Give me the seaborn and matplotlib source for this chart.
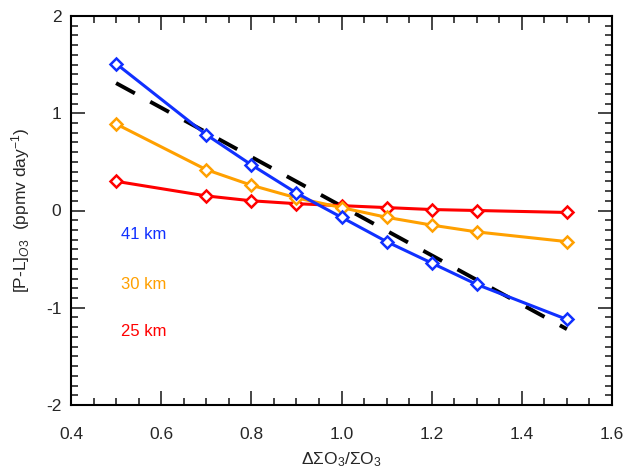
import matplotlib
matplotlib.use("Agg")
import matplotlib.pyplot as plt
import seaborn as sns
import numpy as np
import pandas as pd
from matplotlib.ticker import MultipleLocator

sns.set_style("ticks")
plt.rcParams['font.family'] = ['Liberation Sans', 'DejaVu Sans']
plt.rcParams['mathtext.fontset'] = 'custom'
plt.rcParams['mathtext.rm'] = 'Liberation Sans'
plt.rcParams['mathtext.it'] = 'Liberation Sans:italic'

x = [0.5, 0.7, 0.8, 0.9, 1.0, 1.1, 1.2, 1.3, 1.5]
y_41km = [1.51, 0.78, 0.47, 0.18, -0.07, -0.32, -0.54, -0.76, -1.12]
y_30km = [0.89, 0.42, 0.26, 0.13, 0.03, -0.07, -0.15, -0.22, -0.32]
y_25km = [0.30, 0.15, 0.10, 0.07, 0.05, 0.03, 0.01, 0.00, -0.02]
fit_x = [0.5, 1.5]
fit_y = [1.31, -1.22]

labels = ["41 km", "30 km", "25 km"]
colors = ["#1030ff", "#ffa000", "#ff0000"]
label_y = [-0.25, -0.76, -1.24]

fig = plt.figure(figsize=(6.42, 4.72), dpi=100)
ax = fig.add_axes([71/642, 1-405/472, (612-71)/642, (405-16)/472])

sns.lineplot(x=fit_x, y=fit_y, ax=ax, color="black", lw=2.8,
             dashes=False, zorder=3).lines[-1].set_dashes([5.5, 4.5])

for yv, c in zip([y_25km, y_30km, y_41km], colors[::-1]):
    sns.lineplot(x=x, y=yv, ax=ax, color=c, lw=2.2, marker="D", markersize=6,
                 markerfacecolor="white", markeredgecolor=c, markeredgewidth=1.8,
                 zorder=4)

for lab, c, ly in zip(labels, colors, label_y):
    ax.text(0.51, ly, lab, color=c, fontsize=12, va="center", ha="left")

ax.set_xlim(0.4, 1.6)
ax.set_ylim(-2, 2)
ax.xaxis.set_major_locator(MultipleLocator(0.2))
ax.xaxis.set_minor_locator(MultipleLocator(0.05))
ax.yaxis.set_major_locator(MultipleLocator(1))
ax.yaxis.set_minor_locator(MultipleLocator(0.1))
ax.xaxis.set_major_formatter(matplotlib.ticker.FuncFormatter(lambda v, p: f"{v:.1f}"))
ax.yaxis.set_major_formatter(matplotlib.ticker.FuncFormatter(lambda v, p: f"{v:.0f}"))
ax.tick_params(which="both", direction="in", top=True, right=True, labelsize=12.5, width=1.2)
ax.tick_params(which="major", length=10)
ax.tick_params(axis="x", which="major", pad=16)
ax.tick_params(axis="y", which="major", pad=7)
ax.tick_params(which="minor", length=5)
for s in ax.spines.values():
    s.set_linewidth(1.5)
    s.set_color("black")

ax.set_xlabel(r"$\Delta\Sigma$O$_3$/$\Sigma$O$_3$", fontsize=12.5, labelpad=6)
ax.set_ylabel(r"[P-L]$_{O3}$  (ppmv day$^{-1}$)", fontsize=12.5, labelpad=10)

fig.savefig("out.png", dpi=100)
